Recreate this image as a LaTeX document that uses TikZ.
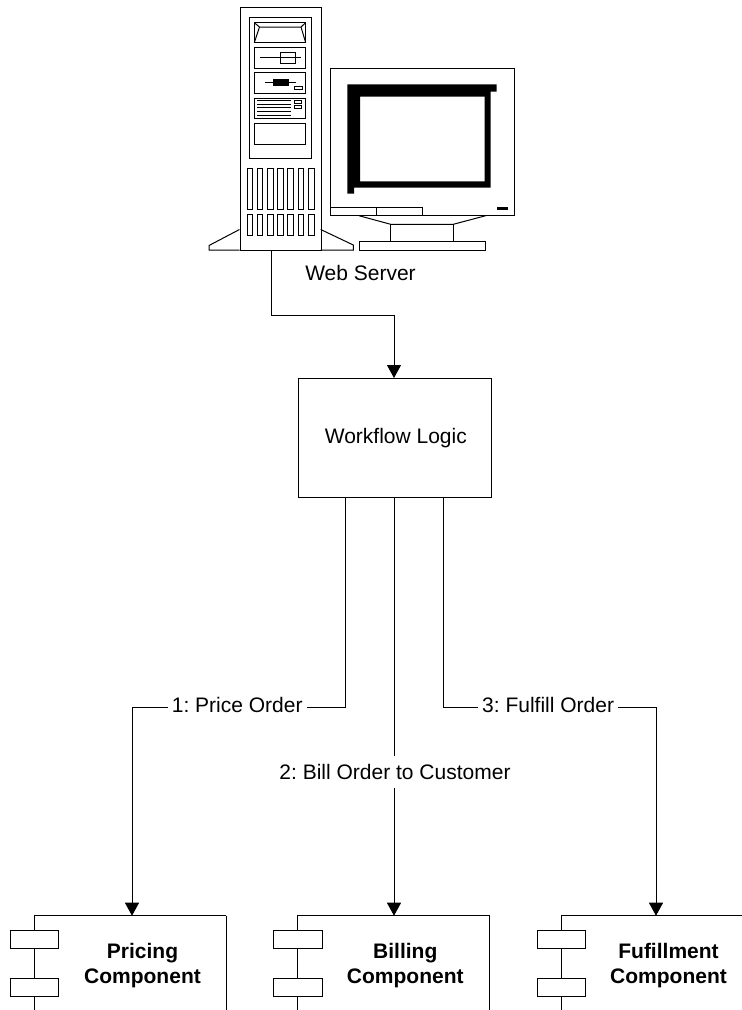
\documentclass[tikz,border=0pt]{standalone}
\usepackage{fontspec}
\setmainfont{Liberation Sans}
\frenchspacing
\usetikzlibrary{arrows.meta}
\tikzset{
  ln/.style={line width=1pt,line cap=butt,line join=miter},
  thin ln/.style={line width=.8pt},
  conn/.style={ln},
  arr/.style={ln,-{Triangle[length=13pt,width=14pt]}},
  lab/.style={font=\fontsize{21}{25}\selectfont,inner xsep=4pt,inner ysep=4pt},
  blab/.style={font=\fontsize{21}{25}\selectfont\bfseries,align=center,inner sep=0pt},
  tab/.style={draw,ln,fill=white,minimum width=48.3pt,minimum height=18pt,inner sep=0pt},
}
\begin{document}
\begin{tikzpicture}[x=1pt,y=-1pt]
\useasboundingbox (0,0) rectangle (742,1010);
% --- tower
\begin{scope}[ln]
\draw (239.5,229.5) -- (209,245.5) -- (209,250) -- (239.5,250);
\draw (320.7,229.5) -- (353.3,245) -- (353.3,250) -- (320.7,250);
\node[draw,ln,anchor=north west,minimum width=81.2pt,minimum height=243.3pt,inner sep=0pt] (tower) at (239.5,6.7) {};
\draw (249.3,17) rectangle (311,158.7);
\draw (254.3,22.7) rectangle (305.7,42.7);
\draw (254.3,22.7) -- (259.5,27) -- (301,27) -- (305.7,22.7);
\draw (259.5,27) -- (254.3,42.7) (301,27) -- (305.7,42.7);
\draw (254.3,47.3) rectangle (305.7,68.3);
\draw (260,57.7) -- (300.7,57.7);
\draw (280.7,52.7) rectangle (295.7,63.3);
\draw (254.3,72.7) rectangle (305.7,93.3);
\draw (265,82.7) -- (296,82.7);
\fill (272.7,79.3) rectangle (288.7,86);
\draw[thin ln] (294.3,86.3) rectangle (302.3,89.7);
\draw (254.3,98.3) rectangle (305.7,118.3);
\foreach \y in {100.5,104,107.7,111.7,115.7} \draw[thin ln] (257,\y) -- (290.7,\y);
\draw[thin ln] (294.7,100.7) rectangle (301.7,103.7);
\draw[thin ln] (294.7,105.3) rectangle (301.7,108.3);
\draw (254.3,123.3) rectangle (305.7,144);
\foreach \i in {0,...,6} {
  \draw ({247+10.22*\i},168.3) rectangle ({252.7+10.22*\i},209.3);
  \draw ({247+10.22*\i},214.3) rectangle ({252.7+10.22*\i},235.3);
}
% --- monitor
\draw (330.7,215.7) -- (330.7,68) -- (514,68) -- (514,215.7) -- cycle;
\fill[even odd rule] (347.3,84.3) -- (496.7,84.3) -- (496.7,91.7) -- (490.7,91.7) -- (490.7,187.7) -- (354,187.7) -- (354,193.7) -- (347.3,193.7) -- cycle
  (360,96.7) rectangle (484.7,181.3);
\fill (497,207) rectangle (508,210);
\draw (330.7,207.3) rectangle (422.3,215.7);
\draw (376.7,207.3) -- (376.7,215.7);
\draw (359,215.7) -- (390.7,224.3) -- (453.3,224.3) -- (485.7,215.7);
\draw (390.7,224.3) rectangle (453.3,241.7);
\draw (359.3,241.7) rectangle (485,250.3);
\end{scope}
% --- labels
\node[lab,anchor=base] (web) at (360.5,280) {Web Server};
\node[draw,ln,anchor=north west,minimum width=193pt,minimum height=119pt,inner sep=0pt] (workflow) at (298,378) {};
\node[lab,anchor=base] (wftext) at (395.8,443.3) {Workflow Logic};
\node[lab,anchor=base west] (l1) at (167.7,712.7) {1: Price Order};
\node[lab,anchor=base,inner ysep=8pt] (l2) at (395,779.3) {2: Bill Order to Customer};
\node[lab,anchor=base west] (l3) at (478,712.7) {3: Fulfill Order};
% --- component boxes (cut off by the page edge)
\coordinate (ptop) at (132,915.7);
\coordinate (btop) at (394,915.7);
\coordinate (ftop) at (656,915.7);
\coordinate (ya) at (0,707);
\foreach \n/\x/\r in {p/34.8/226,b/297.9/489.7,f/561.3/742} {
  \draw[ln] (\x,1010) -- (\x,915.7) -- (\r,915.7);
  \ifdim \r pt<700pt \draw[ln] (\r,915.7) -- (\r,1010); \fi
  \node[tab] (\n tab1) at (\x,939.8) {};
  \node[tab] (\n tab2) at (\x,987.7) {};
}
\node[blab,anchor=base] (pricing) at (142.5,983.3) {Pricing\\Component};
\node[blab,anchor=base] (billing) at (405.3,983.3) {Billing\\Component};
\node[blab,anchor=base] (fulfil) at (668.5,983.3) {Fufillment\\Component};
% --- connectors
\coordinate (wfa) at (345,497);
\coordinate (wfb) at (394,497);
\coordinate (wfc) at (443,497);
\coordinate (towerout) at (271,250);
\coordinate (wfin) at (394,378);
\draw[arr] (towerout) -- (271,315) -| (wfin);
\draw[conn] (wfa) |- (l1.east |- ya);
\draw[arr] (l1.west |- ya) -| (ptop);
\draw[conn] (wfb) -- (l2.north -| wfb);
\draw[arr] (l2.south -| wfb) -- (btop);
\draw[conn] (wfc) |- (l3.west |- ya);
\draw[arr] (l3.east |- ya) -| (ftop);
\end{tikzpicture}
\end{document}
